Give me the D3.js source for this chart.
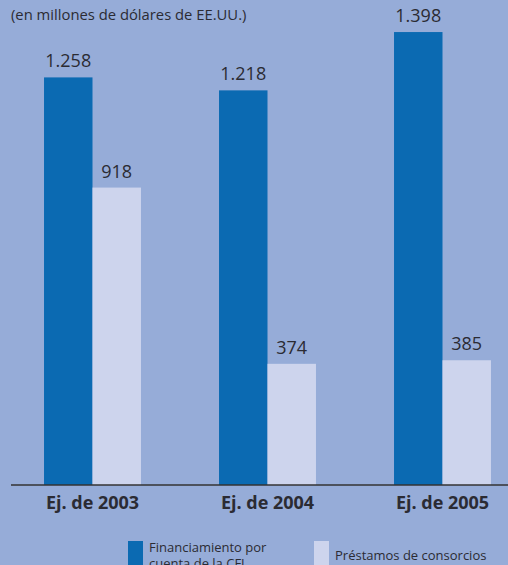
<!DOCTYPE html>
<html>
<head>
<meta charset="utf-8">
<script src="https://cdn.jsdelivr.net/npm/d3@7"></script>
<style>
  html, body { margin: 0; padding: 0; background: #96acd8; }
  svg { display: block; font-family: "Open Sans", sans-serif; }
</style>
</head>
<body>
<script>
// datos (en millones de dólares de EE.UU.)
var years = ["Ej. de 2003", "Ej. de 2004", "Ej. de 2005"];
var cfi = [1258, 1218, 1398];
var consorcios = [918, 374, 385];
var series = ["cfi", "consorcios"];
var seriesNames = [["Financiamiento por", "cuenta de la CFI"], ["Préstamos de consorcios"]];

var width = 508,
    height = 565,
    baseline = 485;

var colors = {cfi: "#0b6ab2", consorcios: "#cdd4ed"};
var textColor = "#2b2b33";

var locale = d3.formatLocale({decimal: ",", thousands: ".", grouping: [3], currency: ["", ""]});
var fmt = locale.format(",");

var svg = d3.select("body").append("svg")
    .attr("width", width)
    .attr("height", height);

svg.append("rect")
    .attr("width", width)
    .attr("height", height)
    .attr("fill", "#96acd8");

var x0 = d3.scaleBand()
    .domain(years)
    .range([5, 530])
    .paddingInner(0.446)
    .paddingOuter(0.223);

var x1 = d3.scaleBand()
    .domain(series)
    .range([0, x0.bandwidth()]);

var y = d3.scaleLinear()
    .domain([0, 1500])
    .range([baseline, -1]);

var rows = years.map(function(yr, i) {
    return {year: yr, values: [{key: "cfi", value: cfi[i]}, {key: "consorcios", value: consorcios[i]}]};
});

// title
svg.append("text")
    .attr("x", 11)
    .attr("y", 20)
    .attr("font-size", 14.8)
    .attr("fill", textColor)
    .text("(en millones de dólares de EE.UU.)");

var group = svg.selectAll(".group")
    .data(rows)
    .enter().append("g")
    .attr("class", "group")
    .attr("transform", function(d) { return "translate(" + x0(d.year) + ",0)"; });

group.selectAll("rect")
    .data(function(d) { return d.values; })
    .enter().append("rect")
    .attr("x", function(d) { return x1(d.key); })
    .attr("y", function(d) { return y(d.value); })
    .attr("width", x1.bandwidth())
    .attr("height", function(d) { return baseline - y(d.value); })
    .attr("fill", function(d) { return colors[d.key]; });

group.selectAll(".val")
    .data(function(d) { return d.values; })
    .enter().append("text")
    .attr("class", "val")
    .attr("x", function(d) { return x1(d.key) + x1.bandwidth() / 2; })
    .attr("y", function(d) { return y(d.value) - 10; })
    .attr("text-anchor", "middle")
    .attr("font-size", 18)
    .attr("fill", textColor)
    .text(function(d) { return fmt(d.value); });

// x axis
svg.append("line")
    .attr("x1", 11)
    .attr("x2", width)
    .attr("y1", baseline)
    .attr("y2", baseline)
    .attr("stroke", "#333")
    .attr("stroke-width", 1.3);

var xAxis = svg.append("g")
    .attr("transform", "translate(0," + baseline + ")")
    .call(d3.axisBottom(x0).tickSize(0).tickPadding(10));
xAxis.select(".domain").remove();
xAxis.selectAll("text")
    .attr("font-family", "'Open Sans', sans-serif")
    .attr("font-size", 18)
    .attr("font-weight", "bold")
    .attr("fill", textColor)
    .attr("dy", "0.75em");

// legend
var legendX = [128, 314];
var legendTextY = [552, 560];
var legend = svg.selectAll(".legend")
    .data(series)
    .enter().append("g")
    .attr("class", "legend");

legend.append("rect")
    .attr("x", function(d, i) { return legendX[i]; })
    .attr("y", 541)
    .attr("width", 15)
    .attr("height", 30)
    .attr("fill", function(d) { return colors[d]; });

legend.append("text")
    .attr("font-size", 13)
    .attr("fill", textColor)
    .selectAll("tspan")
    .data(function(d, i) { return seriesNames[i].map(function(t) { return {t: t, i: i}; }); })
    .enter().append("tspan")
    .attr("x", function(d) { return legendX[d.i] + 21; })
    .attr("y", function(d, j) { return legendTextY[d.i] + j * 16; })
    .text(function(d) { return d.t; });
</script>
</body>
</html>
